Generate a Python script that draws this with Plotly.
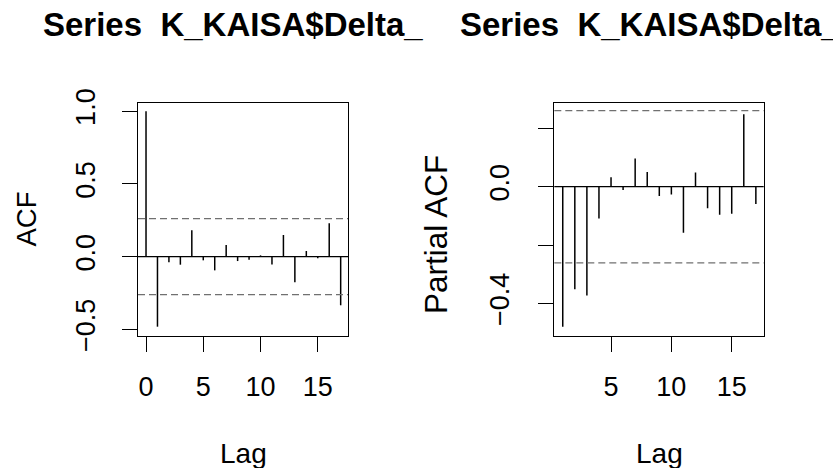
import plotly.graph_objects as go

W, H = 833, 468

# ---- data ----
acf_lags = list(range(0, 18))
acf_vals = [1.0, -0.481, -0.039, -0.055, 0.181, -0.025, -0.094, 0.080, -0.030,
            -0.021, 0.009, -0.053, 0.149, -0.176, 0.039, -0.011, 0.229, -0.334]
pacf_lags = list(range(1, 18))
pacf_vals = [-0.480, -0.352, -0.373, -0.109, 0.032, -0.011, 0.097, 0.050, -0.032,
             -0.027, -0.158, 0.049, -0.074, -0.096, -0.093, 0.248, -0.059]
ci = 0.261

title_text = "Series\u00a0 K_KAISA$Delta_"
acf_yticks = [-0.5, 0.0, 0.5, 1.0]
acf_ytext = ["\u22120.5", "0.0", "0.5", "1.0"]
acf_xticks = [0, 5, 10, 15]
pacf_yticks = [-0.4, -0.2, 0.0, 0.2]
pacf_ytext = ["\u22120.4", "", "0.0", ""]
pacf_xticks = [5, 10, 15]

FONT = "Liberation Sans, Arial, Helvetica, sans-serif"
FS = 27


def stems(xs, ys):
    X, Y = [], []
    for x, y in zip(xs, ys):
        X += [x, x, None]
        Y += [0, y, None]
    return X, Y


def px(x):
    return x / W


def py(y):
    return 1 - y / H


fig = go.Figure()
ax, ay = stems(acf_lags, acf_vals)
fig.add_trace(go.Scatter(x=ax, y=ay, mode="lines", line=dict(color="black", width=1.5),
                         xaxis="x", yaxis="y", showlegend=False, hoverinfo="skip"))
sx, sy = stems(pacf_lags, pacf_vals)
fig.add_trace(go.Scatter(x=sx, y=sy, mode="lines", line=dict(color="black", width=1.5),
                         xaxis="x2", yaxis="y2", showlegend=False, hoverinfo="skip"))

# panel pixel boxes
L1, R1, T, B = 138, 348, 103, 336
L2, R2 = 554.3, 763.7

dom_y = [py(B), py(T)]

axis_common = dict(showgrid=False, zeroline=False, showline=True, mirror=True,
                   linecolor="black", linewidth=1.3, ticks="outside", ticklen=15,
                   tickwidth=1.3, tickcolor="black", automargin=False,
                   tickfont=dict(family=FONT, size=FS, color="black"))

fig.update_layout(
    width=W, height=H,
    margin=dict(l=0, r=0, t=0, b=0, pad=0, autoexpand=False),
    paper_bgcolor="white", plot_bgcolor="white",
    font=dict(family=FONT, size=FS, color="black"),
    hovermode=False,
    xaxis=dict(domain=[px(L1), px(R1)], range=[-0.70, 17.64], tickvals=acf_xticks,
               ticklabelstandoff=11, anchor="y", **axis_common),
    yaxis=dict(domain=dom_y, range=[-0.545, 1.056], tickvals=acf_yticks, ticktext=acf_ytext,
               tickangle=-90, ticklabelstandoff=16, anchor="x", **axis_common),
    xaxis2=dict(domain=[px(L2), px(R2)], range=[0.30, 17.65], tickvals=pacf_xticks,
                ticklabelstandoff=11, anchor="y2", **axis_common),
    yaxis2=dict(domain=dom_y, range=[-0.512, 0.287], tickvals=pacf_yticks, ticktext=pacf_ytext,
                tickangle=-90, ticklabelstandoff=18, anchor="x2", **axis_common),
)

# zero lines and confidence bounds
for xr, yr in [("x", "y"), ("x2", "y2")]:
    fig.add_shape(type="line", xref=f"{xr} domain", yref=yr, x0=0, x1=1, y0=0, y1=0,
                  line=dict(color="black", width=1.3))
    for s in (ci, -ci):
        fig.add_shape(type="line", xref=f"{xr} domain", yref=yr, x0=0, x1=1, y0=s, y1=s,
                      line=dict(color="#707070", width=1.3, dash="7px,4px"))

ann = []
for tx in (41, 458):
    ann.append(dict(text="<b>" + title_text + "</b>", x=px(tx), y=py(24), xref="paper", yref="paper",
                    xanchor="left", yanchor="middle", showarrow=False,
                    font=dict(family=FONT, size=33, color="black")))
ann.append(dict(text="ACF", x=px(26), y=py(219.5), xref="paper", yref="paper",
                textangle=-90, xanchor="center", yanchor="middle", showarrow=False,
                font=dict(family=FONT, size=27.5, color="black")))
ann.append(dict(text="Partial ACF", x=px(436), y=py(235), xref="paper", yref="paper",
                textangle=-90, xanchor="center", yanchor="middle", showarrow=False,
                font=dict(family=FONT, size=31.5, color="black")))
for lx in (243, 659):
    ann.append(dict(text="Lag", x=px(lx), y=py(453.5), xref="paper", yref="paper",
                    xanchor="center", yanchor="middle", showarrow=False,
                    font=dict(family=FONT, size=28, color="black")))
fig.update_layout(annotations=ann)

fig.write_html("out.html", config={"displayModeBar": False},
               post_script="document.body.style.margin='0';")
